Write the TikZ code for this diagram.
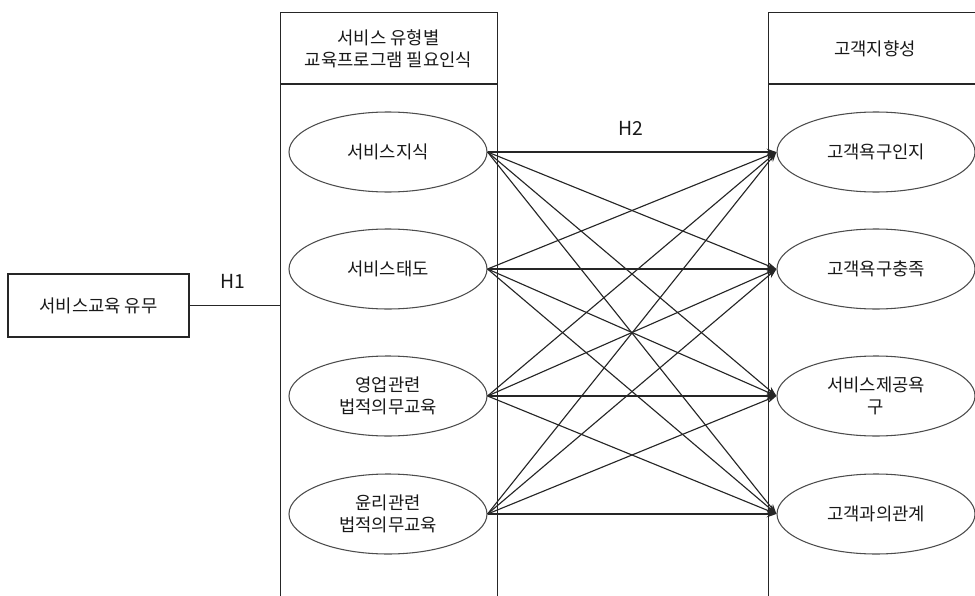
\documentclass[tikz,border=0pt]{standalone}
\usepackage{fontspec}
\setmainfont{Noto Sans CJK KR}
\usetikzlibrary{arrows.meta,shapes.geometric}

\begin{document}
\begin{tikzpicture}[x=0.75pt,y=-0.75pt,
  every node/.style={font=\fontsize{13.3}{16.5}\selectfont, align=center, text=black!90},
  frame/.style={draw=black!85, line width=0.8pt},
  panel/.style={frame, anchor=north west, inner sep=0pt, minimum height=450pt},
  oval/.style={ellipse, draw=black!70, line width=0.8pt, minimum width=148.5pt,
               minimum height=60pt, inner sep=0pt},
  link/.style={draw=black!85, line width=0.85pt, -{Stealth[length=7.5pt,width=5pt]}},
  hyp/.style={font=\fontsize{14.5}{16}\selectfont}]
\useasboundingbox (0,0) rectangle (975,596);

% two column panels, both running past the bottom edge
\node[panel, minimum width=162.75pt] (mid) at (280,12) {};
\node[panel, minimum width=166.5pt] (right) at (768,12) {};
\coordinate (midcut) at (280,84);
\coordinate (rightcut) at (768,84);
\draw[frame] (midcut) -- (midcut -| mid.east);
\draw[frame] (rightcut) -- (rightcut -| right.east);

\node (midhead) at (388.5,49) {서비스 유형별\\교육프로그램 필요인식};
\node (righthead) at (875,49) {고객지향성};

% independent variable
\node[frame, minimum width=135.75pt, minimum height=47.25pt, inner sep=0pt] (edu) at (98.5,305.5) {서비스교육 유무};
\draw[frame] (edu.east) -- (edu.east -| mid.west);
\node[hyp] (h1) at (233,281) {H1};
\node[hyp] (h2) at (631,128) {H2};

% service-type factors
\node[oval] (L1) at (388,152) {서비스지식};
\node[oval] (L2) at (388,269) {서비스태도};
\node[oval] (L3) at (388,396) {영업관련\\법적의무교육};
\node[oval] (L4) at (388,514) {윤리관련\\법적의무교육};

% customer orientation factors
\node[oval] (R1) at (876,152) {고객욕구인지};
\node[oval] (R2) at (876,269) {고객욕구충족};
\node[oval] (R3) at (876,396) {서비스제공욕\\구};
\node[oval] (R4) at (876,514) {고객과의관계};

% every factor points at every outcome
\foreach \a in {1,2,3,4}{
  \foreach \b in {1,2,3,4}{
    \draw[link] (L\a.east) -- (R\b.west);
  }
}
\end{tikzpicture}
\end{document}
